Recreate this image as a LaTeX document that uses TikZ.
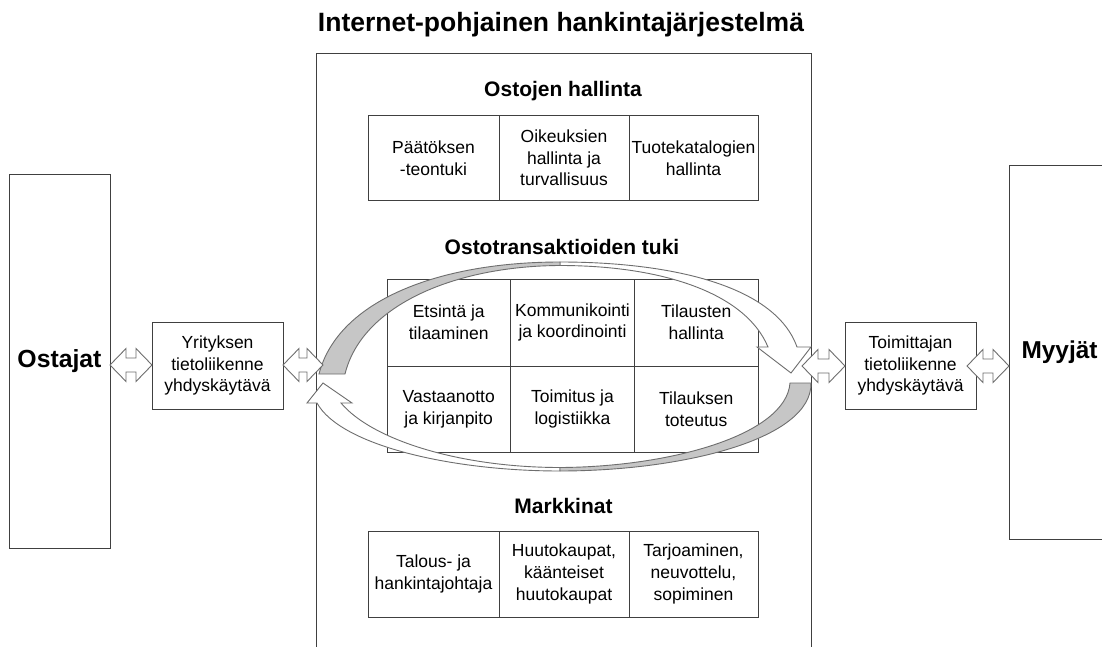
\documentclass[tikz,border=0pt]{standalone}
\usepackage{fontspec}
\usepackage{graphicx}
\setmainfont{Liberation Sans}
\newfontfamily\headfont{Liberation Sans}
\definecolor{boxgray}{HTML}{404040}
\definecolor{arrline}{HTML}{6E6E6E}
\definecolor{arrgray}{HTML}{C6C6C6}
\newcommand\bodyfont{\fontsize{17.5}{21.7}\selectfont}
\newcommand\headingfont{\fontsize{21}{25}\selectfont\bfseries}
\tikzset{
  box/.style={draw=boxgray, line width=1pt, fill=white, inner sep=0pt, align=center, font=\bodyfont},
  cellbox/.style={draw=boxgray, line width=1pt, inner sep=0pt, align=center, font=\bodyfont},
  heading/.style={font=\headingfont, anchor=base, inner sep=0pt},
  blockarrow/.style={draw=arrline, line width=0.9pt, fill=white, line join=miter},
  curvedarrow/.style={draw=arrline, line width=0.9pt, line join=miter},
}
\newcommand\cellat[6]{\node[cellbox, minimum width={(#4-#2)*1pt}, minimum height={(#5-#3)*1pt}] (#1) at ({(#2+#4)/2},{(#3+#5)/2}) {#6};}
\newcommand\blockarr[3]{%
  \draw[blockarrow] (#1,#3) -- ({#1+16},{#3-16.5}) -- ({#1+16},{#3-7}) -- ({#2-16},{#3-7}) -- ({#2-16},{#3-16.5}) -- (#2,#3) -- ({#2-16},{#3+16.5}) -- ({#2-16},{#3+7}) -- ({#1+16},{#3+7}) -- ({#1+16},{#3+16.5}) -- cycle;}
\begin{document}
\begin{tikzpicture}[x=1pt,y=-1pt]
\useasboundingbox (0,0) rectangle (1102,647);
\fill[white] (0,0) rectangle (1102,647);

% title
\node[anchor=base, inner sep=0pt] (title) at (561,32) {\resizebox{486pt}{!}{\headfont\bfseries Internet-pohjainen hankintajärjestelmä}};

% main system box
\node[draw=boxgray, line width=1pt, minimum width=495pt, minimum height=640pt, anchor=north west, inner sep=0pt] (sys) at (316,53) {};

% side boxes
\node[box, minimum width=101pt, minimum height=373pt] (ost) at (59.5,361.5) {\resizebox{84pt}{!}{\headfont\bfseries Ostajat}};
\node[box, minimum width=101pt, minimum height=373pt] (myy) at (1059.5,352.5) {\resizebox{76pt}{!}{\headfont\bfseries Myyjät}};
\node[box, minimum width=131pt, minimum height=87pt] (yr) at (217.5,365.5) {Yrityksen\\tietoliikenne\\yhdyskäytävä};
\node[box, minimum width=131pt, minimum height=87pt] (toim) at (910.5,365.5) {Toimittajan\\tietoliikenne\\yhdyskäytävä};

% headings
\node[heading] (h1) at (563,97) {Ostojen hallinta};
\node[heading] (h2) at (562,254) {Ostotransaktioiden tuki};
\node[heading] (h3) at (563.5,513) {Markkinat};

% Ostojen hallinta table
\cellat{a1}{368}{116}{499}{200}{Päätöksen\\-teontuki}
\cellat{a2}{499}{116}{629}{200}{Oikeuksien\\hallinta ja\\turvallisuus}
\cellat{a3}{629}{116}{758}{200}{Tuotekatalogien\\hallinta}

% Ostotransaktioiden tuki table
\cellat{b1}{387}{279}{510.5}{366}{Etsintä ja\\tilaaminen}
\cellat{b2}{510.5}{279}{634.5}{366}{Kommunikointi\\ja koordinointi}
\cellat{b3}{634.5}{279}{758}{366}{Tilausten\\hallinta}
\cellat{b4}{387}{366}{510.5}{452}{Vastaanotto\\ja kirjanpito}
\cellat{b5}{510.5}{366}{634.5}{452}{Toimitus ja\\logistiikka}
\cellat{b6}{634.5}{366}{758}{452}{Tilauksen\\toteutus}

% Markkinat table
\cellat{c1}{368}{531}{499}{617}{Talous- ja\\hankintajohtaja}
\cellat{c2}{499}{531}{629}{617}{Huutokaupat,\\käänteiset\\huutokaupat}
\cellat{c3}{629}{531}{758}{617}{Tarjoaminen,\\neuvottelu,\\sopiminen}

% curved arrows: top (left -> right)
\draw[curvedarrow, fill=white] (560,262) .. controls (670,262) and (775,285) .. (797,347) -- (811,347) -- (791,373) -- (757,347) -- (768,347) .. controls (745,292) and (660,265.5) .. (560,265.5) -- cycle;
\draw[curvedarrow, fill=arrgray] (319,374) .. controls (338,300) and (440,262) .. (560,262) -- (560,265.5) .. controls (455,266) and (362,305) .. (345,374) -- cycle;
% curved arrows: bottom (right -> left)
\draw[curvedarrow, fill=white] (560,471) .. controls (450,471) and (340,445) .. (317,403) -- (307,403) -- (323,383) -- (352,403) -- (341,403) .. controls (372,440) and (460,467.5) .. (560,467.5) -- cycle;
\draw[curvedarrow, fill=arrgray] (811,383) .. controls (812,440) and (680,471) .. (560,471) -- (560,467.5) .. controls (670,467) and (786,435) .. (790,383) -- cycle;

% block double arrows
\blockarr{110}{152}{365}
\blockarr{283}{323}{365}
\blockarr{802}{845}{366}
\blockarr{967}{1009}{366}
\end{tikzpicture}
\end{document}
